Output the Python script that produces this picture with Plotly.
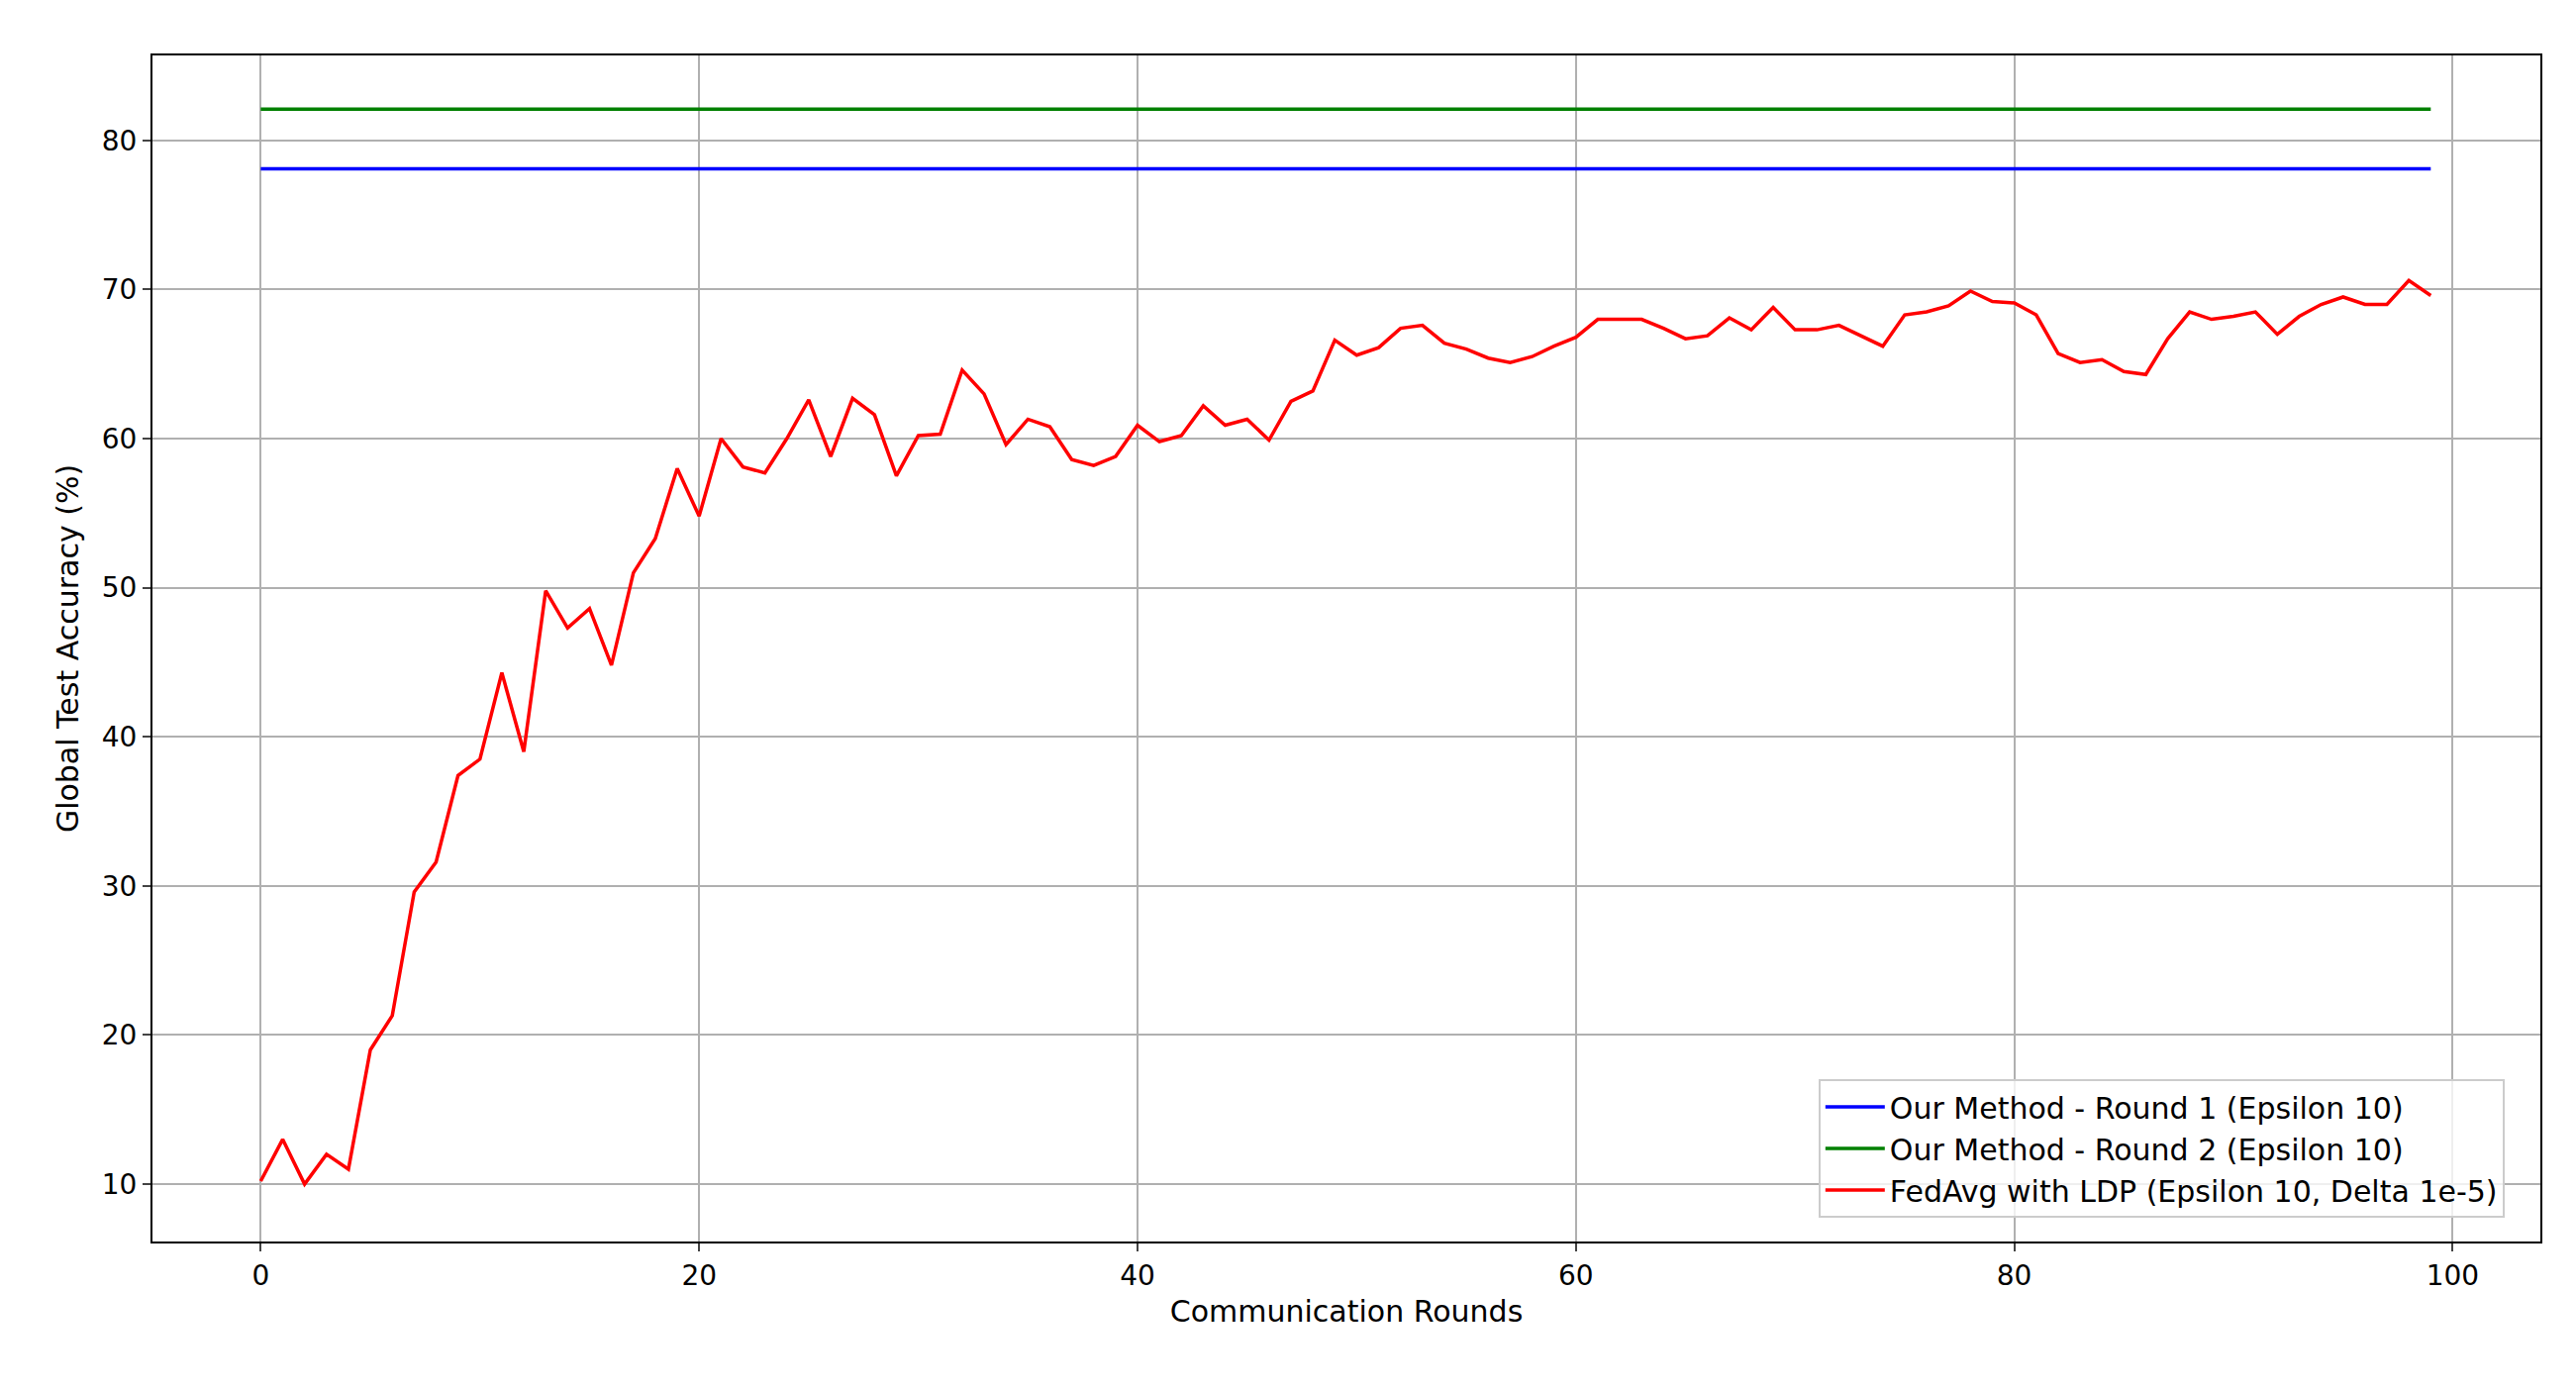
import plotly.graph_objects as go

rounds = list(range(100))
fedavg_ldp = [10.2,13,10,12,11,19,21.3,29.6,31.6,37.4,38.5,44.3,39,49.8,47.3,48.6,44.8,51,53.3,58,
              54.8,60,58.1,57.7,60,62.6,58.8,62.7,61.6,57.5,60.2,60.3,64.6,63,59.6,61.3,60.8,58.6,58.2,58.8,
              60.9,59.8,60.2,62.2,60.9,61.3,59.9,62.5,63.2,66.6,65.6,66.1,67.4,67.6,66.4,66,65.4,65.1,65.5,66.2,
              66.8,68,68,68,67.4,66.7,66.9,68.1,67.3,68.8,67.3,67.3,67.6,66.9,66.2,68.3,68.5,68.9,69.9,69.2,
              69.1,68.3,65.7,65.1,65.3,64.5,64.3,66.7,68.5,68,68.2,68.5,67,68.2,69,69.5,69,69,70.6,69.6]
round1_acc = 78.1
round2_acc = 82.1

fig = go.Figure()
fig.add_trace(go.Scatter(x=rounds, y=[round1_acc]*len(rounds), mode="lines",
                         line=dict(color="blue", width=3.5), name="Our Method - Round 1 (Epsilon 10)"))
fig.add_trace(go.Scatter(x=rounds, y=[round2_acc]*len(rounds), mode="lines",
                         line=dict(color="green", width=3.5), name="Our Method - Round 2 (Epsilon 10)"))
fig.add_trace(go.Scatter(x=rounds, y=fedavg_ldp, mode="lines",
                         line=dict(color="red", width=3.5), name="FedAvg with LDP (Epsilon 10, Delta 1e-5)"))

ax = dict(showgrid=True, gridcolor="#b0b0b0", gridwidth=2, showline=True, linecolor="black",
          linewidth=2, mirror=True, ticks="outside", ticklen=8, tickwidth=2, zeroline=False,
          tickfont=dict(size=28, color="black"))
fig.update_layout(
    width=2602, height=1405, plot_bgcolor="white", paper_bgcolor="white",
    font=dict(family="DejaVu Sans", color="black"),
    margin=dict(l=146, r=44, t=48, b=159),
    xaxis=dict(**ax, range=[-4.94, 104.0], tickvals=[0,20,40,60,80,100],
               title=dict(text="Communication Rounds", font=dict(size=30), standoff=10)),
    yaxis=dict(**ax, range=[6.15, 85.7], tickvals=[10,20,30,40,50,60,70,80],
               title=dict(text="Global Test Accuracy (%)", font=dict(size=30), standoff=14)),
    legend=dict(x=0.985, y=0.02, xanchor="right", yanchor="bottom", bgcolor="rgba(255,255,255,0.8)",
                bordercolor="#cccccc", borderwidth=2, font=dict(size=30), tracegroupgap=8,
                itemwidth=60),
)
fig.write_html("out.html")
